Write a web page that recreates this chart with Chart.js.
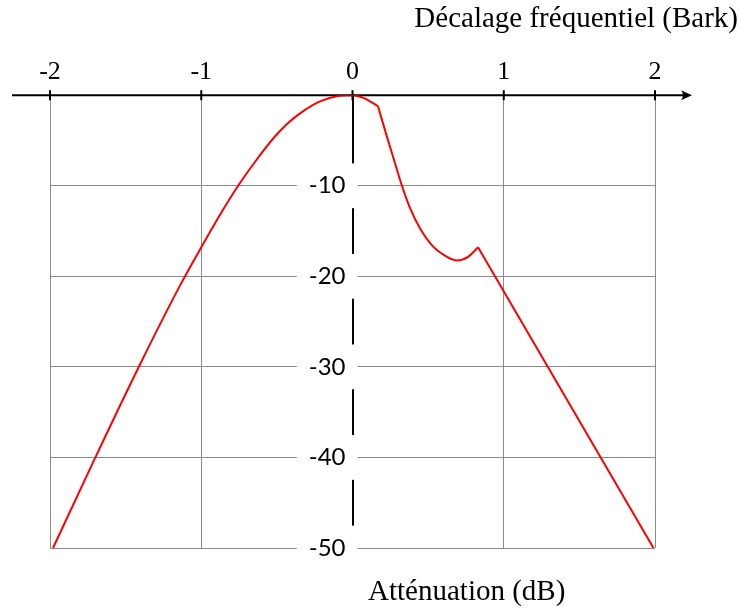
<!DOCTYPE html>
<html>
<head>
<meta charset="utf-8">
<script src="https://cdn.jsdelivr.net/npm/chart.js@4.4.0/dist/chart.umd.min.js"></script>
<style>
  html, body { margin: 0; padding: 0; background: #fff; }
  #wrap { width: 740px; height: 613px; }
</style>
</head>
<body>
<div id="wrap"><canvas id="masking"></canvas></div>
<script>
const xTicks = [-2, -1, 0, 1, 2];
const yTicks = [-10, -20, -30, -40, -50];

// low-frequency side, up to the first knee just past 0
const lowerX = [-1.98, -1.7, -1.41, -1.14, -1.0, -0.854, -0.744, -0.633, -0.52, -0.435, -0.347, -0.215, -0.104, 0, 0.072, 0.168];
const lowerY = [-50, -40, -29.9, -21.0, -16.8, -12.6, -9.7, -7.1, -4.7, -3.2, -2.0, -0.68, -0.12, 0, -0.3, -1.2];
// steep drop, dip and bump
const middleX = [0.168, 0.228, 0.27, 0.327, 0.38, 0.446, 0.532, 0.625, 0.69, 0.764, 0.83];
const middleY = [-1.2, -4.6, -6.9, -10, -12.45, -14.7, -16.7, -17.85, -18.25, -17.85, -16.8];
// straight high-frequency slope
const upperX = [0.83, 1.99];
const upperY = [-16.8, -50];

const toPoints = (xs, ys) => xs.map((v, i) => ({ x: v, y: ys[i] }));

const serif = 'Liberation Serif';

const curve = (xs, ys) => ({
  data: toPoints(xs, ys),
  borderColor: '#ff0000',
  backgroundColor: '#ff0000',
  borderWidth: 2,
  pointRadius: 0,
  fill: false,
  cubicInterpolationMode: 'monotone',
});

const axisFrame = {
  id: 'axisFrame',
  beforeDatasetsDraw(chart) {
    const { ctx, scales: { x, y } } = chart;
    const y0 = y.getPixelForValue(0);
    ctx.save();
    ctx.strokeStyle = '#000';
    ctx.fillStyle = '#000';
    ctx.lineWidth = 2;
    ctx.beginPath();
    ctx.moveTo(x.left - 38, y0);
    ctx.lineTo(x.right + 34, y0);
    ctx.stroke();
    const tip = x.right + 37;
    ctx.beginPath();
    ctx.moveTo(tip, y0);
    ctx.lineTo(tip - 11, y0 - 5);
    ctx.quadraticCurveTo(tip - 7, y0, tip - 11, y0 + 5);
    ctx.closePath();
    ctx.fill();
    xTicks.forEach(v => {
      const px = x.getPixelForValue(v);
      ctx.beginPath();
      ctx.moveTo(px, y0 - 5);
      ctx.lineTo(px, y0 + 5);
      ctx.stroke();
    });
    ctx.restore();
  },
  afterDraw(chart) {
    const { ctx, scales: { x } } = chart;
    ctx.save();
    ctx.fillStyle = '#000';
    ctx.font = '29px "' + serif + '"';
    ctx.textBaseline = 'alphabetic';
    ctx.textAlign = 'right';
    ctx.fillText('Décalage fréquentiel (Bark)', 738, 27);
    ctx.textAlign = 'center';
    ctx.fillText('Atténuation (dB)', x.getPixelForValue(0.755), 600);
    ctx.restore();
  }
};

new Chart(document.getElementById('masking'), {
  type: 'line',
  data: {
    datasets: [
      curve(lowerX, lowerY),
      curve(middleX, middleY),
      curve(upperX, upperY),
    ],
  },
  options: {
    responsive: true,
    maintainAspectRatio: false,
    animation: false,
    layout: { padding: { left: 50, right: 85, top: 50, bottom: 65 } },
    plugins: {
      legend: { display: false },
      tooltip: { enabled: false },
    },
    scales: {
      x: {
        type: 'linear',
        position: 'top',
        min: -2,
        max: 2,
        afterBuildTicks: axis => { axis.ticks = xTicks.map(v => ({ value: v })); },
        grid: { color: '#8a8a8a', lineWidth: 1, drawTicks: false },
        border: { display: false },
        ticks: {
          color: '#000',
          padding: 7,
          maxRotation: 0,
          font: { family: serif, size: 26 },
        },
      },
      y: {
        type: 'linear',
        position: { x: 0 },
        min: -50,
        max: 0,
        afterBuildTicks: axis => { axis.ticks = yTicks.map(v => ({ value: v })); },
        grid: { color: '#8a8a8a', lineWidth: 1, drawTicks: false },
        border: { display: true, color: '#000', width: 2 },
        ticks: { display: false },
      },
      // labels only, set a few pixels left of the vertical axis
      yLabels: {
        type: 'linear',
        axis: 'y',
        position: { x: -0.046 },
        min: -50,
        max: 0,
        afterBuildTicks: axis => { axis.ticks = yTicks.map(v => ({ value: v })); },
        grid: { display: false, drawTicks: false },
        border: { display: false },
        ticks: {
          color: '#000',
          font: { family: 'Lato', size: 24 },
          showLabelBackdrop: true,
          backdropColor: '#fff',
          backdropPadding: { top: 8, bottom: 8, left: 12, right: 12 },
        },
      },
    },
  },
  plugins: [axisFrame],
});
</script>
</body>
</html>
